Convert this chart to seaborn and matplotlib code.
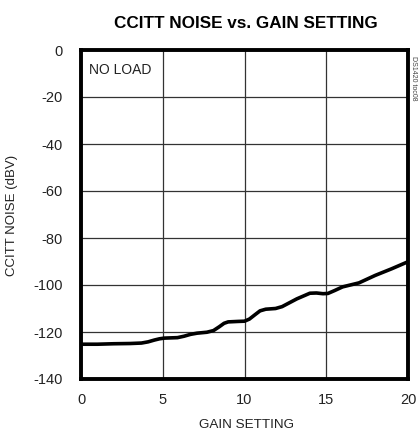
import matplotlib
matplotlib.use("Agg")
import matplotlib.pyplot as plt
import seaborn as sns
import pandas as pd

# values
gain = [0.0, 1.0, 2.0, 3.0, 3.7, 4.1, 4.5, 4.8, 5.1, 5.9, 6.3, 6.7, 7.1, 7.7, 8.1,
        8.45, 8.75, 9.0, 9.6, 10.0, 10.3, 10.65, 10.95, 11.3, 11.9, 12.3, 13.2, 14.0,
        14.4, 14.8, 15.1, 15.5, 16.0, 17.0, 18.0, 19.0, 20.0]
noise = [-125.2, -125.2, -125.0, -124.9, -124.7, -124.2, -123.4, -122.9, -122.6, -122.4,
         -121.8, -121.0, -120.5, -120.1, -119.4, -117.8, -116.3, -115.7, -115.5, -115.4,
         -114.5, -112.6, -111.0, -110.3, -110.0, -109.2, -105.9, -103.5, -103.4, -103.7,
         -103.6, -102.4, -100.8, -99.1, -95.9, -93.1, -90.1]

x_ticks = [0, 5, 10, 15, 20]
y_ticks = [0, -20, -40, -60, -80, -100, -120, -140]

df = pd.DataFrame({"GAIN SETTING": gain, "CCITT NOISE (dBV)": noise})

sns.set_style("white")
plt.rcParams["font.family"] = ["Liberation Sans", "DejaVu Sans"]
plt.rcParams["axes.unicode_minus"] = False

fig = plt.figure(figsize=(4.19, 4.34), dpi=100)
ax = fig.add_axes([81 / 419, 1 - 379 / 434, 327 / 419, 329 / 434])

sns.lineplot(data=df, x="GAIN SETTING", y="CCITT NOISE (dBV)", ax=ax,
             color="black", linewidth=2.6, sort=False)

ax.set_xlim(0, 20)
ax.set_ylim(-140, 0)
ax.set_xticks(x_ticks)
ax.set_yticks(y_ticks)
ax.grid(True, color="#333333", linewidth=0.9)
ax.tick_params(axis="both", length=0, labelsize=10.5, colors="#222222")
ax.tick_params(axis="x", pad=10)
ax.tick_params(axis="y", pad=13)
for s in ax.spines.values():
    s.set_visible(True)
    s.set_color("black")
    s.set_linewidth(2.8)

ax.set_xlabel("")
ax.set_ylabel("")
fig.text(246 / 419, 1 - 425 / 434, "GAIN SETTING", ha="center", va="center",
         fontsize=9.7, color="#222222")
fig.text(12 / 419, 1 - 215 / 434, "CCITT NOISE (dBV)", ha="center", va="center",
         rotation=90, fontsize=9.5, color="#222222")

fig.text(246 / 419, 1 - 23 / 434, "CCITT NOISE vs. GAIN SETTING", ha="center", va="center",
         fontsize=12.3, fontweight="bold", color="black")
ax.text(0.025, 0.96, "NO LOAD", transform=ax.transAxes, ha="left", va="top",
        fontsize=10, color="#222222")
fig.text(413 / 419, 1 - 78 / 434, "DS1420 toc08", rotation=270, ha="center", va="center",
         fontsize=5, color="#444444")

fig.savefig("out.png", dpi=100)
